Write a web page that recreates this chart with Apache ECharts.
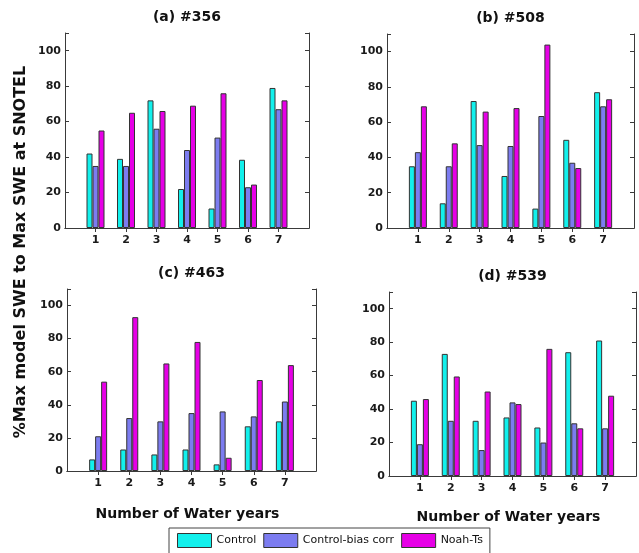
<!DOCTYPE html>
<html>
<head>
<meta charset="utf-8">
<script src="https://cdn.jsdelivr.net/npm/echarts@6/dist/echarts.min.js"></script>
<style>
html, body { margin: 0; padding: 0; background: #fff; }
#chart { width: 639px; height: 553px; }
</style>
</head>
<body>
<div id="chart"></div>
<script>
// ---- data ----
const categories = ['1', '2', '3', '4', '5', '6', '7'];
const seriesNames = ['Control', 'Control-bias corr', 'Noah-Ts'];
const panelTitles = ['(a) #356', '(b) #508', '(c) #463', '(d) #539'];
const yTicks = [0, 20, 40, 60, 80, 100];

const a_control  = [42, 39, 72, 22, 11, 38.5, 79];
const a_biasCorr = [35, 35, 56, 44, 51, 23, 67];
const a_noah     = [55, 65, 66, 69, 76, 24.5, 72];

const b_control  = [35, 14, 72, 29.5, 11, 50, 77];
const b_biasCorr = [43, 35, 47, 46.5, 63.5, 37, 69];
const b_noah     = [69, 48, 66, 68, 104, 34, 73];

const c_control  = [7, 13, 10, 13, 4, 27, 30];
const c_biasCorr = [21, 32, 30, 35, 36, 33, 42];
const c_noah     = [54, 93, 65, 78, 8, 55, 64];

const d_control  = [45, 73, 33, 35, 29, 74, 81];
const d_biasCorr = [19, 33, 15.5, 44, 20, 31.5, 28.5];
const d_noah     = [46, 59.5, 50.5, 43, 76, 28.5, 48];

const xTitle = 'Number of Water years';
const yTitle = '%Max model SWE to Max SWE at SNOTEL';

// ---- styles ----
const colors = ['#12F0EC', '#7C7CF0', '#E600E6'];
const FONT = '"DejaVu Sans", sans-serif';
const axisColor = '#3a3a3a';
const grids = [
  { left: 65,  top: 33,  width: 244, height: 195 },
  { left: 387, top: 34,  width: 247, height: 194 },
  { left: 67,  top: 289, width: 249, height: 182 },
  { left: 389, top: 292, width: 247, height: 184 }
];
const panelData = [
  [a_control, a_biasCorr, a_noah],
  [b_control, b_biasCorr, b_noah],
  [c_control, c_biasCorr, c_noah],
  [d_control, d_biasCorr, d_noah]
];

// padded category list so the x range runs 0..8 like the original
const axisCats = [''].concat(categories, ['']);
const pad = arr => [null].concat(arr, [null]);

const xAxes = [], yAxes = [], series = [], graphics = [];
const yMax = 110;

grids.forEach((g, i) => {
  const common = {
    gridIndex: i,
    axisLine: { show: true, lineStyle: { color: axisColor, width: 1 } },
    splitLine: { show: false }
  };
  xAxes.push(Object.assign({}, common, {
    type: 'category', position: 'bottom', data: axisCats, boundaryGap: false,
    axisTick: { show: true, inside: true, length: 4, lineStyle: { color: axisColor },
      interval: (idx) => idx > 0 && idx < axisCats.length - 1 },
    axisLabel: { show: true, interval: 0, margin: 7, color: '#1a1a1a',
      fontFamily: FONT, fontWeight: 'bold', fontSize: 11 }
  }));
  xAxes.push(Object.assign({}, common, {
    type: 'category', position: 'top', data: axisCats, boundaryGap: false,
    axisTick: { show: true, inside: true, length: 4, lineStyle: { color: axisColor },
      interval: (idx) => idx > 0 && idx < axisCats.length - 1 },
    axisLabel: { show: false }
  }));
  const yCommon = Object.assign({}, common, {
    type: 'value', min: 0, max: yMax, interval: yTicks[1] - yTicks[0],
    axisTick: { show: true, inside: true, length: 4, lineStyle: { color: axisColor } }
  });
  yAxes.push(Object.assign({}, yCommon, {
    position: 'left',
    axisLabel: { show: true, margin: 4, color: '#1a1a1a', fontFamily: FONT,
      fontWeight: 'bold', fontSize: 11,
      formatter: v => (yTicks.indexOf(v) >= 0 ? String(v) : '') }
  }));
  yAxes.push(Object.assign({}, yCommon, {
    position: 'right',
    axisLabel: { show: false }
  }));

  panelData[i].forEach((vals, s) => {
    series.push({
      type: 'bar',
      name: seriesNames[s],
      xAxisIndex: i * 2,
      yAxisIndex: i * 2,
      data: pad(vals),
      barWidth: 6,
      barGap: '0%',
      itemStyle: { color: colors[s], borderColor: '#333', borderWidth: 1 },
      emphasis: { disabled: true },
      animation: false
    });
  });

  graphics.push({
    type: 'text',
    x: g.left + g.width / 2,
    y: g.top - 16,
    style: {
      text: panelTitles[i],
      font: 'bold 14px ' + FONT,
      fill: '#111',
      textAlign: 'center',
      textVerticalAlign: 'middle'
    }
  });
});

// x axis titles for bottom panels
[2, 3].forEach((i, k) => {
  const g = grids[i];
  graphics.push({
    type: 'text',
    x: g.left + g.width / 2 - 4,
    y: k === 0 ? 514 : 517,
    style: {
      text: xTitle,
      font: 'bold 14px ' + FONT,
      fill: '#111',
      textAlign: 'center',
      textVerticalAlign: 'middle'
    }
  });
});

// shared y axis title
graphics.push({
  type: 'text',
  x: 21,
  y: 252,
  rotation: Math.PI / 2,
  style: {
    text: yTitle,
    font: 'bold 16px ' + FONT,
    fill: '#111',
    textAlign: 'center',
    textVerticalAlign: 'middle'
  }
});

const chart = echarts.init(document.getElementById('chart'), null, { renderer: 'canvas' });
chart.setOption({
  animation: false,
  backgroundColor: '#fff',
  grid: grids.map(g => Object.assign({ containLabel: false }, g)),
  xAxis: xAxes,
  yAxis: yAxes,
  legend: {
    data: seriesNames,
    left: 169,
    top: 528,
    orient: 'horizontal',
    icon: 'rect',
    itemWidth: 34,
    itemHeight: 14,
    itemGap: 7,
    padding: [5, 7, 30, 8],
    borderColor: '#444',
    borderWidth: 1,
    selectedMode: false,
    textStyle: { fontFamily: FONT, fontSize: 11, color: '#111' },
    itemStyle: { borderColor: '#333', borderWidth: 1 }
  },
  series: series,
  graphic: graphics
});
</script>
</body>
</html>
